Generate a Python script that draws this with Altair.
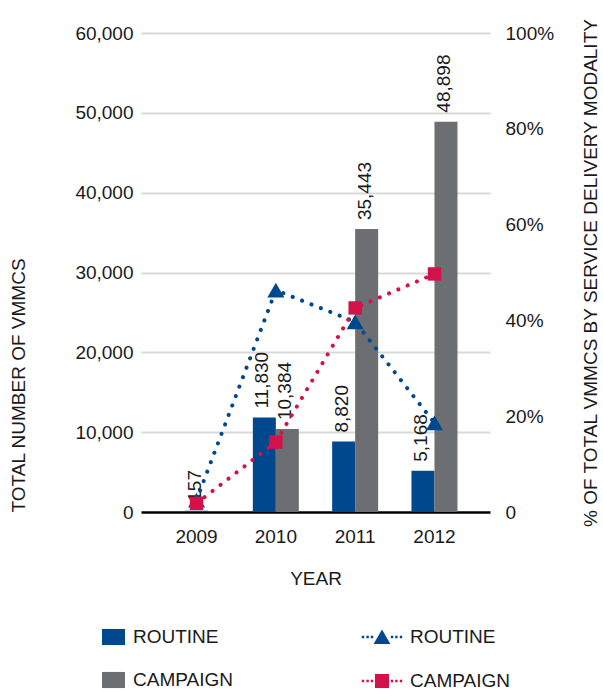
import altair as alt
import pandas as pd

# ---- data -----------------------------------------------------------------
years = ["2009", "2010", "2011", "2012"]
series_names = ["ROUTINE", "CAMPAIGN"]
routine_counts = [157, 11830, 8820, 5168]
campaign_counts = [0, 10384, 35443, 48898]
routine_share = [2.5, 46.3, 39.7, 18.6]   # % of all VMMCs by modality
campaign_share = [1.8, 14.6, 42.6, 49.7]

count_ticks = [0, 10000, 20000, 30000, 40000, 50000, 60000]
share_ticks = [0, 20, 40, 60, 80, 100]

# ---- styling --------------------------------------------------------------
BLUE = "#00488e"
GRAY = "#6d6e71"
RED = "#d3124a"
INK = "#1a1a1a"
FONT = "Liberation Sans"
FS = 19

rows = []
for i, yr in enumerate(years):
    both = routine_counts[i] > 0 and campaign_counts[i] > 0
    rows.append(dict(year=yr, series="ROUTINE", count=routine_counts[i],
                     share=routine_share[i], paired=both))
    rows.append(dict(year=yr, series="CAMPAIGN", count=campaign_counts[i],
                     share=campaign_share[i], paired=both))
df = pd.DataFrame(rows)

# legend glyphs (unit paths, scaled by sqrt(size)/2)
RECT_PATH = "M-1,-0.7L1,-0.7L1,0.7L-1,0.7Z"


def dots(xs, h=0.06):
    return "".join(f"M{x - h:.3f},{-h}L{x + h:.3f},{-h}L{x + h:.3f},{h}L{x - h:.3f},{h}Z" for x in xs)


DOT_X = [-0.95, -0.72, -0.5, 0.5, 0.72, 0.95]
TRI_KEY = dots(DOT_X) + "M0,-0.37L0.42,0.35L-0.42,0.35Z"
SQ_KEY = dots(DOT_X) + "M-0.35,-0.35L0.35,-0.35L0.35,0.35L-0.35,0.35Z"
KEY_EXPR = f"datum.value === 'ROUTINE' ? '{TRI_KEY}' : '{SQ_KEY}'"

# ---- shared encodings -------------------------------------------------------
x_enc = alt.X(
    "year:N", sort=years,
    scale=alt.Scale(paddingInner=0.42, paddingOuter=0.41),
    axis=alt.Axis(title="YEAR", labelAngle=0, ticks=False, domain=False,
                  labelPadding=15, titlePadding=23),
)

y_count = alt.Y(
    "count:Q",
    scale=alt.Scale(domain=[0, 60000]),
    axis=alt.Axis(
        title="TOTAL NUMBER OF VMMCS", values=count_ticks, format=",.0f",
        grid=True,
        gridColor={"condition": {"test": "datum.value === 0", "value": "#000000"},
                   "value": "#d9d9d9"},
        gridWidth={"condition": {"test": "datum.value === 0", "value": 2.5},
                   "value": 2},
        ticks=False, domain=False, labelPadding=8,
        titleAnchor="start", titlePadding=46,
    ),
)

bar_color = alt.Color(
    "series:N",
    scale=alt.Scale(domain=series_names, range=[BLUE, GRAY]),
    legend=alt.Legend(
        title=None, orient="none", legendX=-39, legendY=592.5,
        direction="vertical", symbolType=RECT_PATH, symbolSize=529,
        symbolStrokeWidth=0, labelOffset=8, rowPadding=21, padding=0,
    ),
)

base = alt.Chart(df)

# paired bars (two series side by side)
bars_pair = base.mark_bar().encode(
    x=x_enc, xOffset=alt.XOffset("series:N", sort=series_names),
    y=y_count, color=bar_color,
).transform_filter("datum.paired && datum.count > 0")

# a year with a single series: one bar centred on the year
bars_single = base.mark_bar(width={"band": 0.5}).encode(
    x=x_enc, y=y_count, color=bar_color,
).transform_filter("!datum.paired && datum.count > 0")

label_style = dict(angle=270, align="left", baseline="middle", dx=9, dy=-2,
                   fontSize=FS, font=FONT, color=INK)

labels_pair = base.mark_text(**label_style).encode(
    x=x_enc, xOffset=alt.XOffset("series:N", sort=series_names),
    y=y_count, text=alt.Text("count:Q", format=","),
).transform_filter("datum.paired && datum.count > 0")

labels_single = base.mark_text(**label_style).encode(
    x=x_enc, y=y_count, text=alt.Text("count:Q", format=","),
).transform_filter("!datum.paired && datum.count > 0")

bar_group = alt.layer(bars_pair, bars_single, labels_pair, labels_single)

# ---- share lines (right axis) -------------------------------------------
y_share = alt.Y(
    "share:Q",
    scale=alt.Scale(domain=[0, 100]),
    axis=alt.Axis(
        orient="right", values=share_ticks,
        labelExpr="datum.value === 0 ? '0' : datum.value + '%'",
        grid=False, ticks=False, domain=False, labelPadding=15,
        title="% OF TOTAL VMMCS BY SERVICE DELIVERY MODALITY",
        titleAngle=270, titleBaseline="top", titlePadding=28,
    ),
)

line_scale = alt.Scale(domain=series_names, range=[BLUE, RED])

lines = base.mark_line(strokeDash=[0.1, 10], strokeCap="round",
                       strokeWidth=4).encode(
    x=x_enc, y=y_share,
    stroke=alt.Stroke("series:N", scale=line_scale, legend=None),
)

points = base.mark_point(filled=True, opacity=1).encode(
    x=x_enc, y=y_share,
    color=alt.Color(
        "series:N", scale=line_scale,
        legend=alt.Legend(
            title=None, orient="none", legendX=221, legendY=584,
            direction="vertical", symbolSize=1600, symbolStrokeWidth=0,
            symbolType={"expr": KEY_EXPR},
            labelOffset=8, rowPadding=14, padding=0,
        ),
    ),
    shape=alt.Shape("series:N",
                    scale=alt.Scale(domain=series_names,
                                    range=["triangle-up", "square"]),
                    legend=None),
    size=alt.Size("series:N",
                  scale=alt.Scale(domain=series_names, range=[290, 180]),
                  legend=None),
)

line_group = alt.layer(lines, points)

chart = (
    alt.layer(bar_group, line_group)
    .resolve_scale(y="independent", color="independent")
    .properties(
        width=349, height=479,
        autosize=alt.AutoSizeParams(type="none"),
        padding={"left": 141, "top": 33, "right": 113, "bottom": 180},
    )
    .configure_view(stroke=None)
    .configure_axis(
        labelFont=FONT, labelFontSize=FS, labelColor=INK,
        titleFont=FONT, titleFontSize=FS, titleFontWeight="normal",
        titleColor=INK,
    )
    .configure_legend(labelFont=FONT, labelFontSize=FS, labelColor=INK,
                      labelLimit=300)
)

chart.save("out.html", embed_options={"renderer": "svg", "actions": False})
